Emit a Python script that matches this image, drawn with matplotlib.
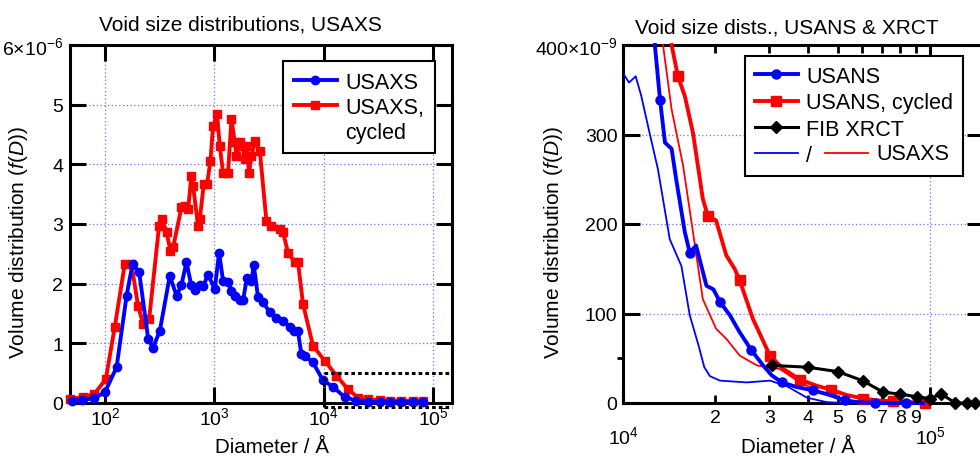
import matplotlib
matplotlib.use('Agg')
import matplotlib.pyplot as plt
from matplotlib.lines import Line2D
from matplotlib.text import Text
from matplotlib.legend_handler import HandlerBase
from matplotlib.ticker import NullLocator

plt.rcParams['font.family'] = ['Liberation Sans', 'DejaVu Sans']
plt.rcParams['mathtext.fontset'] = 'custom'
plt.rcParams['mathtext.rm'] = 'Liberation Sans'
plt.rcParams['mathtext.it'] = 'Liberation Sans:italic'

# ---------------- Left panel: USAXS (units of 1e-6) ----------------
usaxs_d = [50, 62, 80, 100, 128, 158, 179, 206, 249, 276, 318, 392, 452, 500, 557,
           617, 664, 738, 791, 878, 1011, 1107, 1203, 1337, 1435, 1539, 1710, 1832,
           1990, 2188, 2296, 2514, 2793, 3214, 3700, 4250, 4886, 5400, 5821, 6252,
           6700, 7980, 9870, 12170, 15560, 19870, 25400, 32400, 40000, 51200, 65400,
           80700]
usaxs_f = [0.04, 0.05, 0.08, 0.18, 0.60, 1.80, 2.33, 2.19, 1.07, 0.93, 1.21, 2.13,
           1.80, 1.97, 2.36, 1.97, 1.90, 1.97, 1.96, 2.15, 1.91, 2.52, 2.05, 2.02,
           1.88, 1.80, 1.72, 1.72, 2.10, 2.05, 2.31, 1.77, 1.69, 1.52, 1.43, 1.38,
           1.28, 1.20, 1.20, 0.82, 0.79, 0.68, 0.38, 0.27, 0.10, 0.04, 0.02, 0.02,
           0.02, 0.02, 0.02, 0.02]

usaxs_cyc_d = [48, 62.5, 80, 102, 123, 152, 175, 201, 224, 254, 313, 336, 366, 398,
               421, 501, 538, 577, 619, 640, 711, 737, 802, 860, 923, 975, 1061, 1122,
               1203, 1337, 1436, 1539, 1595, 1710, 1811, 1901, 1969, 2081, 2187, 2344,
               2605, 2998, 3329, 3964, 4254, 4725, 5437, 5825, 6474, 7985, 10200,
               13060, 16700, 20570, 25400, 32400, 40000, 51200, 65400, 80700]
usaxs_cyc_f = [0.07, 0.10, 0.15, 0.40, 1.27, 2.33, 2.33, 1.63, 1.32, 1.41, 2.97,
               3.08, 2.86, 2.55, 2.61, 3.28, 3.31, 3.25, 3.81, 3.64, 2.97, 3.08, 3.67,
               3.67, 4.06, 4.64, 4.84, 4.31, 3.86, 3.86, 4.76, 4.37, 4.14, 4.37, 4.31,
               4.09, 4.31, 3.86, 4.14, 4.39, 4.23, 3.05, 2.97, 2.91, 2.86, 2.52, 2.36,
               2.36, 1.66, 0.96, 0.71, 0.46, 0.23, 0.09, 0.06, 0.05, 0.04, 0.04, 0.04,
               0.04]

left_xticks = [1e2, 1e3, 1e4, 1e5]
left_xticklabels = ['$10^{2}$', '$10^{3}$', '$10^{4}$', '$10^{5}$']
left_yticks = [0, 1, 2, 3, 4, 5, 6]
left_yticklabels = ['0', '1', '2', '3', '4', '5', '6\u00d710$^{-6}$']

# zoom box (region shown in right panel)
zoom_x0 = 1e4
zoom_y1 = 0.5

# ---------------- Right panel: USANS & XRCT (units of 1e-9) ----------------
usans_d = [12700, 13200, 13700, 14400, 14900, 15900, 16500, 17300, 18700, 19700,
           20700, 22300, 24000, 26200, 28600, 30500, 32900, 36700, 41700, 47200,
           52800, 58000, 66200, 75000, 83600, 95000]
usans_f = [400, 339, 291, 284, 250, 191, 168, 176, 131, 127, 113, 98, 79, 59, 42, 31,
           23, 18, 14, 9, 3, 1, 0, 0, 0, 0]
usans_marks = [1, 6, 10, 13, 16, 18, 20, 22, 24]

usans_cyc_d = [14400, 15100, 15900, 16900, 18200, 18900, 20100, 21700, 23100, 24000,
               26500, 30100, 33300, 37800, 43000, 47500, 53400, 60600, 67000, 76000,
               86000, 96000]
usans_cyc_f = [400, 365, 343, 302, 228, 209, 204, 165, 150, 137, 94, 53, 38, 26, 19,
               15, 9, 5, 3, 2, 1, 0]
usans_cyc_marks = [1, 5, 9, 11, 13, 15, 17, 19, 21]

fib_d = [30500, 40000, 50200, 60300, 70500, 79800, 90500, 100000, 109000, 121000,
         132000, 140000]
fib_f = [42, 40, 35, 25, 12, 10, 7, 5, 10, 0, 0, 0]

usaxs_r_d = [10070, 10460, 11000, 11470, 12200, 13000, 14200, 15500, 16500, 17600,
             18400, 19200, 20700, 25300, 30100, 34100, 39700, 46000, 52000]
usaxs_r_f = [367, 358, 365, 343, 302, 261, 183, 153, 98, 65, 40, 30, 25, 23, 25, 19,
             6, 1, 0]

usaxs_cyc_r_d = [13500, 14400, 15700, 16900, 18200, 20100, 21800, 24000, 27300,
                 29400, 32400, 37700, 43900, 50900, 59200, 65000]
usaxs_cyc_r_f = [400, 328, 265, 191, 116, 83, 71, 53, 42, 40, 38, 23, 12, 4, 1, 0]

right_xticks = [1e4, 1e5]
right_xticklabels = ['$10^{4}$', '$10^{5}$']
right_xminor = [2e4, 3e4, 4e4, 5e4, 6e4, 7e4, 8e4, 9e4]
right_xminorlabels = ['2', '3', '4', '5', '6', '7', '8', '9']
right_yticks = [0, 100, 200, 300, 400]
right_yticklabels = ['0', '100', '200', '300', '400\u00d710$^{-9}$']

BLUE = '#0000ff'
RED = '#ff0000'
GRID = '#6f6fff'
FS = 14
LFS = 15.5

fig = plt.figure(figsize=(9.8, 4.64), dpi=100)
W, H = 980.0, 464.0
ax1 = fig.add_axes([70 / W, 60 / H, 382 / W, 358 / H])
ax2 = fig.add_axes([623 / W, 60 / H, 361 / W, 358 / H])

grid_kw = dict(color=GRID, linestyle=(0, (1, 2)), linewidth=0.9)

# ---------------- left ----------------
ax1.set_xscale('log')
h_red, = ax1.plot(usaxs_cyc_d, usaxs_cyc_f, '-s', color=RED, lw=2.8, ms=6,
                  clip_on=False, zorder=3)
h_blue, = ax1.plot(usaxs_d, usaxs_f, '-o', color=BLUE, lw=2.8, ms=6,
                   clip_on=False, zorder=4)
ax1.set_xlim(48, 1.49e5)
ax1.set_ylim(0, 6)
ax1.set_xticks(left_xticks)
ax1.set_xticklabels(left_xticklabels)
ax1.xaxis.set_minor_locator(NullLocator())
ax1.set_yticks(left_yticks)
ax1.set_yticklabels(left_yticklabels)
ax1.tick_params(which='major', direction='in', length=11.5, width=2.2,
                top=True, right=True, labelsize=FS)
ax1.tick_params(axis='x', pad=2)
ax1.tick_params(axis='y', pad=5)
ax1.grid(True, which='major', **grid_kw)
for sp in ax1.spines.values():
    sp.set_linewidth(2.2)

xr = ax1.get_xlim()[1]
dot_kw = dict(color='black', lw=2.2, linestyle=(0, (1.2, 1.0)), clip_on=False,
              zorder=5)
ax1.plot([zoom_x0, xr], [zoom_y1, zoom_y1], **dot_kw)
ax1.plot([zoom_x0, zoom_x0], [-0.07, zoom_y1], **dot_kw)
ax1.plot([zoom_x0, xr], [-0.07, -0.07], **dot_kw)

ax1.set_title('Void size distributions, USAXS', fontsize=15, x=0.445, pad=11)
ax1.set_xlabel('Diameter / \u00c5', fontsize=14.8)
ax1.set_ylabel(r'Volume distribution ($\mathit{f}$($\mathit{D}$))', fontsize=15)
ax1.yaxis.set_label_coords(-0.105, 0.45)
ax1.xaxis.set_label_coords(0.53, -0.095)

blank = Line2D([], [], color='none')
leg1 = ax1.legend([h_blue, h_red, blank], ['USAXS', 'USAXS,', 'cycled'],
                  loc='upper left', bbox_to_anchor=(0.558, 0.955), borderaxespad=0,
                  fontsize=LFS, frameon=True, fancybox=False, edgecolor='black',
                  framealpha=1, handlelength=2.0, handletextpad=0.4,
                  labelspacing=0.18, borderpad=0.5)
leg1.get_frame().set_linewidth(1.5)


# ---------------- right ----------------
class SlashUSAXSHandler(HandlerBase):
    def create_artists(self, legend, orig_handle, xdescent, ydescent, width, height,
                       fontsize, trans):
        y = height / 2.0 - ydescent
        x0 = -xdescent
        gap = 1.25 * fontsize
        b = Line2D([x0, x0 + width], [y, y], color=BLUE, lw=1.3)
        r = Line2D([x0 + width + gap, x0 + 2 * width + gap], [y, y], color=RED, lw=1.3)
        t = Text(x0 + 2 * width + gap + 0.4 * fontsize, y, 'USAXS', fontsize=fontsize,
                 va='center', ha='left')
        for a in (b, r, t):
            a.set_transform(trans)
        return [b, r, t]


ax2.set_xscale('log')
h_tb, = ax2.plot(usaxs_r_d, usaxs_r_f, '-', color=BLUE, lw=1.3, clip_on=False, zorder=3)
h_tr, = ax2.plot(usaxs_cyc_r_d, usaxs_cyc_r_f, '-', color=RED, lw=1.3, clip_on=False,
                 zorder=3)
h_uc, = ax2.plot(usans_cyc_d, usans_cyc_f, '-s', color=RED, lw=2.8, ms=6.5,
                 markevery=usans_cyc_marks, clip_on=False, zorder=4)
h_u, = ax2.plot(usans_d, usans_f, '-o', color=BLUE, lw=2.8, ms=6.5,
                markevery=usans_marks, clip_on=False, zorder=5)
h_f, = ax2.plot(fib_d, fib_f, '-D', color='black', lw=2.2, ms=6, clip_on=False,
                zorder=6)
ax2.set_xlim(1e4, 1.5e5)
ax2.set_ylim(0, 400)
ax2.set_xticks(right_xticks)
ax2.set_xticklabels(right_xticklabels)
ax2.set_xticks(right_xminor, minor=True)
ax2.set_xticklabels(right_xminorlabels, minor=True)
ax2.set_yticks(right_yticks)
ax2.set_yticklabels(right_yticklabels)
ax2.set_yticks([50], minor=True)
ax2.tick_params(axis='x', which='major', direction='in', length=11.5, width=2.2,
                top=True, bottom=True, pad=16, labelsize=FS)
ax2.tick_params(axis='x', which='minor', direction='in', length=6, width=2.0,
                top=True, bottom=True, pad=4, labelsize=FS)
ax2.tick_params(axis='y', which='major', direction='in', length=12, width=2.2,
                left=True, right=True, pad=4, labelsize=FS)
ax2.tick_params(axis='y', which='minor', direction='out', length=4, width=2.0,
                left=True, right=False)
ax2.grid(True, which='major', **grid_kw)
for sp in ax2.spines.values():
    sp.set_linewidth(2.2)

ax2.set_title('Void size dists., USANS & XRCT', fontsize=15, x=0.454, pad=9)
ax2.set_xlabel('Diameter / \u00c5', fontsize=14.8)
ax2.xaxis.set_label_coords(0.485, -0.095)
ax2.set_ylabel(r'Volume distribution ($\mathit{f}$($\mathit{D}$))', fontsize=15)
ax2.yaxis.set_label_coords(-0.16, 0.45)

leg2 = ax2.legend([h_u, h_uc, h_f, h_tb], ['USANS', 'USANS, cycled', 'FIB XRCT', '/'],
                  handler_map={h_tb: SlashUSAXSHandler()},
                  loc='upper left', bbox_to_anchor=(0.338, 0.969), borderaxespad=0,
                  fontsize=LFS, frameon=True, fancybox=False, edgecolor='black',
                  framealpha=1, handlelength=2.0, handletextpad=0.4,
                  labelspacing=0.25, borderpad=0.45)
leg2.get_frame().set_linewidth(1.5)
leg2.set_zorder(10)

fig.savefig('out.png', dpi=100)
